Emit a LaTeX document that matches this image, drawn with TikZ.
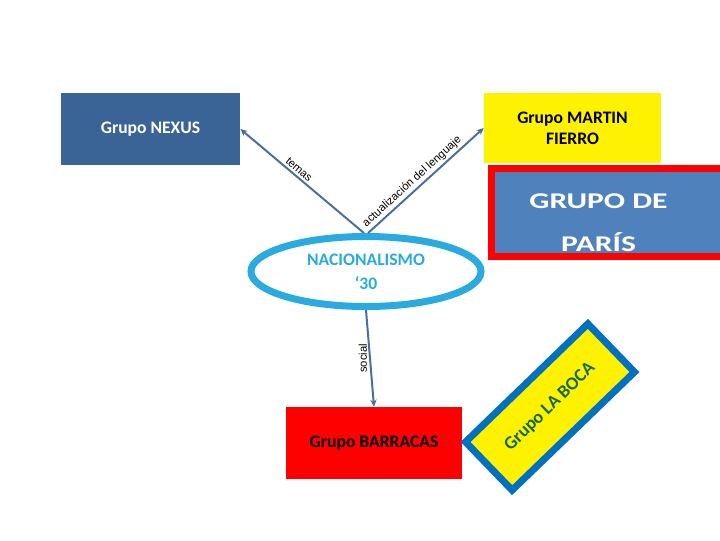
\documentclass[tikz,border=0pt]{standalone}
\usepackage{fontspec}
\setmainfont{Carlito}
\newfontfamily\linkfont{Liberation Sans}
\newfontfamily\parisfont[FakeStretch=1.4]{Carlito}
\usetikzlibrary{arrows.meta, positioning, shapes.geometric}
\definecolor{nexusblue}{RGB}{58, 100, 150}
\definecolor{parisblue}{RGB}{79, 129, 189}
\definecolor{skyline}{RGB}{41, 171, 226}
\definecolor{bocablue}{RGB}{0, 112, 192}
\definecolor{bocagreen}{RGB}{20, 105, 60}
\definecolor{linkgray}{RGB}{74, 110, 155}

\begin{document}
\begin{tikzpicture}[x=0.025cm, y=-0.025cm, font=\bfseries\fontsize{12.5}{15}\selectfont,
        grupo/.style={rectangle, draw=none, align=center, inner sep=0pt},
        link/.style={draw=linkgray, line width=1.4pt, -{Stealth[length=5pt, width=4.5pt]}},
        tag/.style={font=\linkfont\fontsize{8}{9}\selectfont, text=black, inner sep=1.5pt}]
    \useasboundingbox (0,0) rectangle (720,540);
    \node[grupo, fill=nexusblue, text=white, minimum width=4.475cm, minimum height=1.8cm] (nexus) at (150.5,129) {Grupo NEXUS};
    \node[grupo, fill=yellow, minimum width=4.425cm, minimum height=1.75cm] (fierro) at (572.5,128) {Grupo MARTIN\\FIERRO};
    \node[grupo, draw=red, line width=0.175cm, fill=parisblue, text=white, minimum width=5.85cm, minimum height=2.2cm,
          font=\parisfont\bfseries\fontsize{16}{31}\selectfont] (paris) at (608.5,212.5) {\rule{0pt}{25pt}GRUPO DE\hspace*{0.5cm}\\PARÍS\hspace*{0.5cm}};
    \node[ellipse, draw=skyline, line width=0.175cm, fill=white, text=skyline, align=center, minimum width=5.75cm, minimum height=1.75cm,
          font=\bfseries\fontsize{12.5}{17}\selectfont] (nacion) at (366,271.5) {NACIONALISMO\\‘30};
    \node[grupo, fill=red, text=black, minimum width=4.4cm, minimum height=1.8cm] (barracas) at (374,443) {Grupo BARRACAS};
    \node[grupo, draw=bocablue, line width=0.175cm, fill=yellow, text=bocagreen, rotate=44, minimum width=4.25cm, minimum height=1.675cm,
          font=\bfseries\fontsize{13}{15}\selectfont] (boca) at (550,407) {Grupo LA BOCA};
    % conectores
    \draw[link] ([xshift=-1.5pt]nacion.north) -- (nexus.east) node[tag, pos=0.56, sloped, above] {temas};
    \draw[link] ([xshift=1.5pt]nacion.north) -- (fierro.west) node[tag, pos=0.43, sloped, above] {actualización del lenguaje};
    \draw[link] (nacion.south) -- (barracas.north) node[tag, midway, rotate=90, anchor=south] {social};
\end{tikzpicture}
\end{document}
